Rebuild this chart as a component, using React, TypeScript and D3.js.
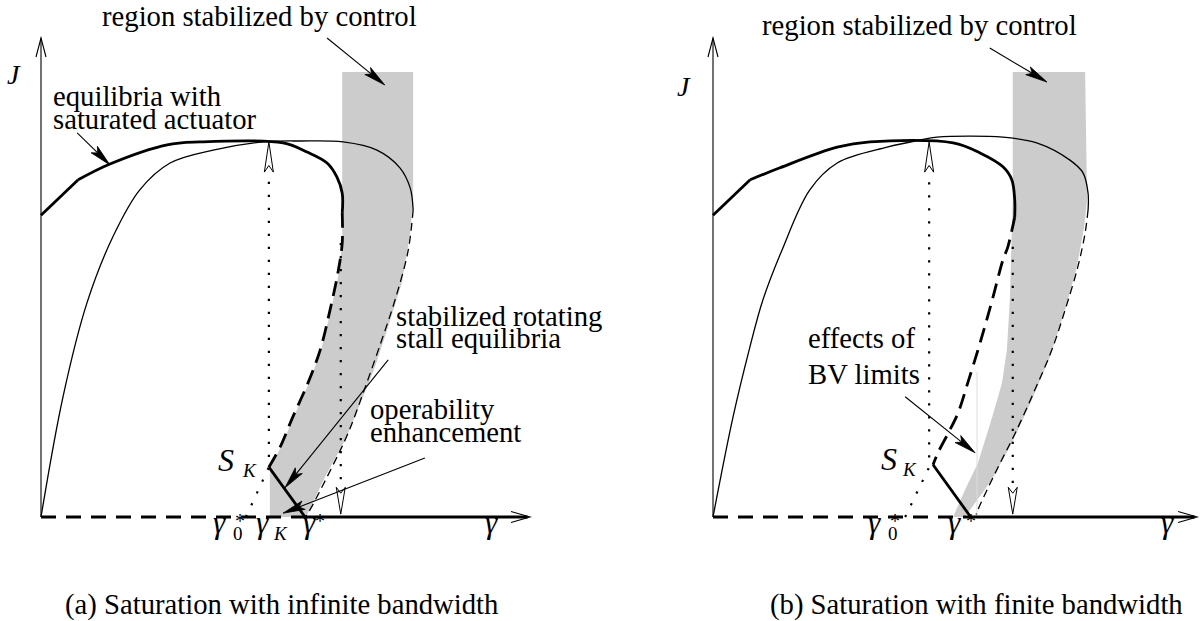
import React from 'react';
import * as d3 from 'd3';

type P = [number, number];

// ---------------- Panel (a): saturation with infinite bandwidth ----------------
// values are (γ, J) in schematic units (axis runs 0..10)
const compressorA: P[] = [[0,0],[0.45,2.51],[0.94,4.47],[1.47,5.85],[2.02,6.83],[2.64,7.39],[3.52,7.66],[4.54,7.83],[5.30,7.85],[6.18,7.83],[6.87,7.66],[7.34,7.29],[7.55,6.87],[7.61,6.41]];
const compressorDashA: P[] = [[7.61,6.41],[7.51,5.57],[7.24,4.53],[6.97,3.70],[6.63,2.71],[6.28,1.75],[5.95,1.04],[5.46,0.08],[5.40,0]];
const saturatedLinA: P[] = [[0,6.30],[0.76,7.04]];
const saturatedA: P[] = [[0.76,7.04],[1.41,7.37],[2.58,7.77],[3.25,7.83],[4.95,7.81],[5.44,7.62],[5.85,7.39],[6.05,7.10],[6.16,6.76],[6.16,6.35]];
const saturatedDashA: P[] = [[6.16,6.35],[6.16,5.72],[6.07,5.09],[5.91,4.32],[5.71,3.49],[5.46,2.80],[5.15,2.09],[4.89,1.46],[4.66,1.04]];
const stallA: P[] = [[4.66,1.04],[5.40,0]];
const gammaStarA = 5.40;
const regionA: P[] = [[6.16,9.29],[7.61,9.29],[7.61,6.62],[7.55,5.93],[7.38,4.89],[7.10,3.97],[6.83,3.13],[6.56,2.44],[6.22,1.61],[5.81,0.84],[5.42,0],[4.68,0],[4.68,1.04],[4.91,1.46],[5.17,2.09],[5.48,2.80],[5.73,3.49],[5.93,4.32],[6.09,5.09],[6.16,5.72]];
const dotUpA: P[] = [[4.19,0],[4.66,1.04],[4.66,7.2]];
const dotUpTipA: P = [4.66,7.83];
const dotDownA: P[] = [[6.13,5.72],[6.13,0.62]];
const dotDownTipA: P = [6.13,0.06];
const arrowsA: P[][] = [
  [[5.85,10.0],[7.03,9.02]],
  [[0.74,8.02],[1.41,7.35]],
  [[7.10,3.28],[4.99,0.61]],
  [[7.85,1.23],[4.95,0.08]],
];
const axisEndA = 10;

// ---------------- Panel (b): saturation with finite bandwidth ----------------
const compressorB: P[] = [[0,0],[0.41,2.09],[0.74,3.49],[1.02,4.53],[1.41,5.57],[1.98,6.83],[2.54,7.39],[3.56,7.72],[4.23,7.87],[4.58,7.93],[5.93,7.93],[6.62,7.81],[7.30,7.45],[7.57,7.18],[7.67,6.76],[7.67,6.41]];
const compressorDashB: P[] = [[7.67,6.41],[7.61,5.93],[7.46,5.22],[7.20,4.32],[6.93,3.49],[6.58,2.65],[6.18,1.75],[5.83,1.04],[5.46,0.25],[5.38,0.05]];
const saturatedLinB: P[] = [[0,6.30],[0.76,7.04]];
const saturatedB: P[] = [[0.76,7.04],[1.37,7.29],[2.54,7.72],[3.21,7.83],[4.91,7.81],[5.46,7.60],[5.93,7.31],[6.11,7.04],[6.17,6.62],[6.17,6.26]];
const saturatedDashB: P[] = [[6.17,6.26],[6.03,5.64],[5.93,5.37],[5.71,4.53],[5.46,3.63],[5.21,2.80],[5.01,2.17],[4.81,1.75],[4.60,1.34],[4.50,1.09]];
const stallB: P[] = [[4.50,1.09],[5.27,0]];
const gammaStarB = 5.27;
const regionB: P[] = [[6.13,9.29],[7.61,9.29],[7.65,6.62],[7.59,6.05],[7.44,5.22],[7.20,4.32],[6.89,3.34],[6.52,2.44],[6.11,1.54],[5.70,0.77],[5.30,0.21],[5.15,0],[4.91,0],[5.15,0.56],[5.42,1.13],[5.71,2.09],[5.91,2.80],[6.01,3.49],[6.07,4.53],[6.13,6.62]];
const faintB: P[] = [[5.40,3.03],[5.40,0]];
const dotUpB: P[] = [[3.93,0],[4.42,1.04],[4.42,7.2]];
const dotUpTipB: P = [4.42,7.83];
const dotDownB: P[] = [[6.13,5.64],[6.13,0.62]];
const dotDownTipB: P = [6.13,0.06];
const arrowsB: P[][] = [
  [[5.66,9.79],[6.83,9.08]],
  [[3.93,2.51],[5.36,1.34]],
];
const axisEndB = 9.9;

const FONT = "'Liberation Serif','Times New Roman',Times,serif";
const FS = 28.7;
const GRAY = '#cccccc';

const yScale = d3.scaleLinear().domain([0, 10]).range([517, 38]);
const makeX = (x0: number) => d3.scaleLinear().domain([0, 10]).range([x0, x0 + 489]);

function filledHead(a: P, b: P, len = 22, half = 4.5) {
  const dx = b[0] - a[0], dy = b[1] - a[1];
  const d = Math.hypot(dx, dy);
  const ux = dx / d, uy = dy / d, nx = -uy, ny = ux;
  const bx = b[0] - ux * len, by = b[1] - uy * len;
  const mx = b[0] - ux * len * 0.78, my = b[1] - uy * len * 0.78;
  return {
    head: `M${b[0]},${b[1]}L${bx + nx * half},${by + ny * half}L${mx},${my}L${bx - nx * half},${by - ny * half}Z`,
    line: `M${a[0]},${a[1]}L${mx},${my}`,
  };
}

function openV(a: P, b: P, len = 19, half = 5) {
  const dx = b[0] - a[0], dy = b[1] - a[1];
  const d = Math.hypot(dx, dy);
  const ux = dx / d, uy = dy / d, nx = -uy, ny = ux;
  const bx = b[0] - ux * len, by = b[1] - uy * len;
  return `M${bx + nx * half},${by + ny * half}L${b[0]},${b[1]}L${bx - nx * half},${by - ny * half}`;
}

interface PanelProps {
  x0: number;
  compressor: P[]; compressorDash: P[];
  satLin: P[]; sat: P[]; satDash: P[]; stall: P[]; gammaStar: number;
  region: P[]; dotUp: P[]; dotUpTip: P; dotDown: P[]; dotDownTip: P;
  arrows: P[][]; axisEnd: number; faint?: P[];
}

function Panel(p: PanelProps) {
  const x = makeX(p.x0);
  const y = yScale;
  const pt = (d: P): P => [x(d[0]), y(d[1])];
  const curve = d3.line<P>().x(d => x(d[0])).y(d => y(d[1])).curve(d3.curveCatmullRom.alpha(0.5));
  const lin = d3.line<P>().x(d => x(d[0])).y(d => y(d[1]));
  const area = d3.line<P>().x(d => x(d[0])).y(d => y(d[1])).curve(d3.curveLinearClosed);

  const upBase = pt(p.dotUp[p.dotUp.length - 1]);
  const upTip = pt(p.dotUpTip);
  const downBase = pt(p.dotDown[p.dotDown.length - 1]);
  const downTip = pt(p.dotDownTip);
  const hollow = (base: P, tip: P) =>
    filledHead(base, tip, Math.hypot(tip[0] - base[0], tip[1] - base[1]), 4.5).head;
  const origin = pt([0, 0]);
  const yTop = pt([0, 10]);
  const xEnd = pt([p.axisEnd, 0]);

  return (
    <g>
      <path d={area(p.region) || ''} fill={GRAY} stroke="none" />
      {p.faint && <path d={lin(p.faint) || ''} stroke="#dcdcdc" strokeWidth={1} fill="none" />}
      {/* axes */}
      <line x1={origin[0]} y1={origin[1]} x2={yTop[0]} y2={yTop[1]} stroke="#000" strokeWidth={1.1} />
      <path d={openV(origin, yTop)} fill="none" stroke="#000" strokeWidth={1.1} />
      <path d={lin([[0, 0], [p.gammaStar, 0]]) || ''} stroke="#000" strokeWidth={3} strokeDasharray="15 10" fill="none" />
      <path d={lin([[p.gammaStar, 0], [p.axisEnd - 0.05, 0]]) || ''} stroke="#000" strokeWidth={3} fill="none" />
      <path d={openV(origin, xEnd, 19, 5.5)} fill="none" stroke="#000" strokeWidth={1.1} />
      {/* compressor characteristic */}
      <path d={curve(p.compressor) || ''} fill="none" stroke="#000" strokeWidth={1.3} />
      <path d={curve(p.compressorDash) || ''} fill="none" stroke="#000" strokeWidth={1.3} strokeDasharray="8 5" />
      {/* saturated equilibria */}
      <path d={lin(p.satLin) || ''} fill="none" stroke="#000" strokeWidth={2.8} strokeLinejoin="round" />
      <path d={curve(p.sat) || ''} fill="none" stroke="#000" strokeWidth={2.8} />
      <path d={curve(p.satDash) || ''} fill="none" stroke="#000" strokeWidth={2.8} strokeDasharray="15 8" />
      <path d={lin(p.stall) || ''} fill="none" stroke="#000" strokeWidth={2.8} />
      {/* dotted lines */}
      <path d={lin(p.dotUp) || ''} fill="none" stroke="#000" strokeWidth={2.2} strokeDasharray="2.2 10.8" />
      <path d={lin(p.dotDown) || ''} fill="none" stroke="#000" strokeWidth={2.2} strokeDasharray="2.2 10.8" />
      <path d={hollow(upBase, upTip)} fill="#fff" stroke="#000" strokeWidth={1} />
      <path d={hollow(downBase, downTip)} fill="#fff" stroke="#000" strokeWidth={1} />
      {/* annotation arrows */}
      {p.arrows.map((a, i) => {
        const h = filledHead(pt(a[0]), pt(a[1]));
        return (
          <g key={i}>
            <path d={h.line} stroke="#000" strokeWidth={1.1} fill="none" />
            <path d={h.head} fill="#000" stroke="#000" strokeWidth={0.8} strokeLinejoin="miter" />
          </g>
        );
      })}
    </g>
  );
}

const T = (props: any) => <text fontFamily={FONT} fontSize={FS} fill="#000" {...props} />;

export default function App() {
  return (
    <svg width={1202} height={621} style={{ position: 'absolute', left: 0, top: 0, background: '#fff' }}>
      <rect width={1202} height={621} fill="#fff" />
      <Panel x0={41} compressor={compressorA} compressorDash={compressorDashA} satLin={saturatedLinA} sat={saturatedA}
        satDash={saturatedDashA} stall={stallA} gammaStar={gammaStarA} region={regionA} dotUp={dotUpA} dotUpTip={dotUpTipA}
        dotDown={dotDownA} dotDownTip={dotDownTipA} arrows={arrowsA} axisEnd={axisEndA} />
      <Panel x0={713} compressor={compressorB} compressorDash={compressorDashB} satLin={saturatedLinB} sat={saturatedB}
        satDash={saturatedDashB} stall={stallB} gammaStar={gammaStarB} region={regionB} dotUp={dotUpB} dotUpTip={dotUpTipB}
        dotDown={dotDownB} dotDownTip={dotDownTipB} arrows={arrowsB} axisEnd={axisEndB} faint={faintB} />

      {/* panel (a) text */}
      <T x={102} y={26}>region stabilized by control</T>
      <T x={7} y={84} fontStyle="italic" fontSize={28}>J</T>
      <T x={53} y={106}>equilibria with</T>
      <T x={53} y={129}>saturated actuator</T>
      <T x={396} y={326}>stabilized rotating</T>
      <T x={396} y={348}>stall equilibria</T>
      <T x={370} y={419}>operability</T>
      <T x={370} y={442}>enhancement</T>
      <T x={218} y={471} fontStyle="italic" fontSize={32}>S<tspan x={243} y={477} fontSize={19}>K</tspan></T>
      <T x={213} y={533} fontStyle="italic" fontSize={31}>γ<tspan x={233} y={540} fontSize={19} fontStyle="normal">0</tspan><tspan x={235} y={528} fontSize={20} fontStyle="normal">*</tspan></T>
      <T x={256} y={533} fontStyle="italic" fontSize={31}>γ<tspan x={274} y={540} fontSize={19}>K</tspan></T>
      <T x={303} y={533} fontStyle="italic" fontSize={31}>γ<tspan x={315} y={528} fontSize={20} fontStyle="normal">*</tspan></T>
      <T x={485} y={533} fontStyle="italic" fontSize={31}>γ</T>
      <T x={65} y={614}>(a) Saturation with infinite bandwidth</T>

      {/* panel (b) text */}
      <T x={762} y={35}>region stabilized by control</T>
      <T x={677} y={96} fontStyle="italic" fontSize={28}>J</T>
      <T x={808} y={348}>effects of</T>
      <T x={808} y={384}>BV limits</T>
      <T x={881} y={470} fontStyle="italic" fontSize={32}>S<tspan x={903} y={476} fontSize={19}>K</tspan></T>
      <T x={868} y={533} fontStyle="italic" fontSize={31}>γ<tspan x={888} y={540} fontSize={19} fontStyle="normal">0</tspan><tspan x={890} y={528} fontSize={20} fontStyle="normal">*</tspan></T>
      <T x={948} y={533} fontStyle="italic" fontSize={31}>γ<tspan x={966} y={528} fontSize={20} fontStyle="normal">*</tspan></T>
      <T x={1161} y={533} fontStyle="italic" fontSize={31}>γ</T>
      <T x={770} y={614}>(b) Saturation with finite bandwidth</T>
    </svg>
  );
}
